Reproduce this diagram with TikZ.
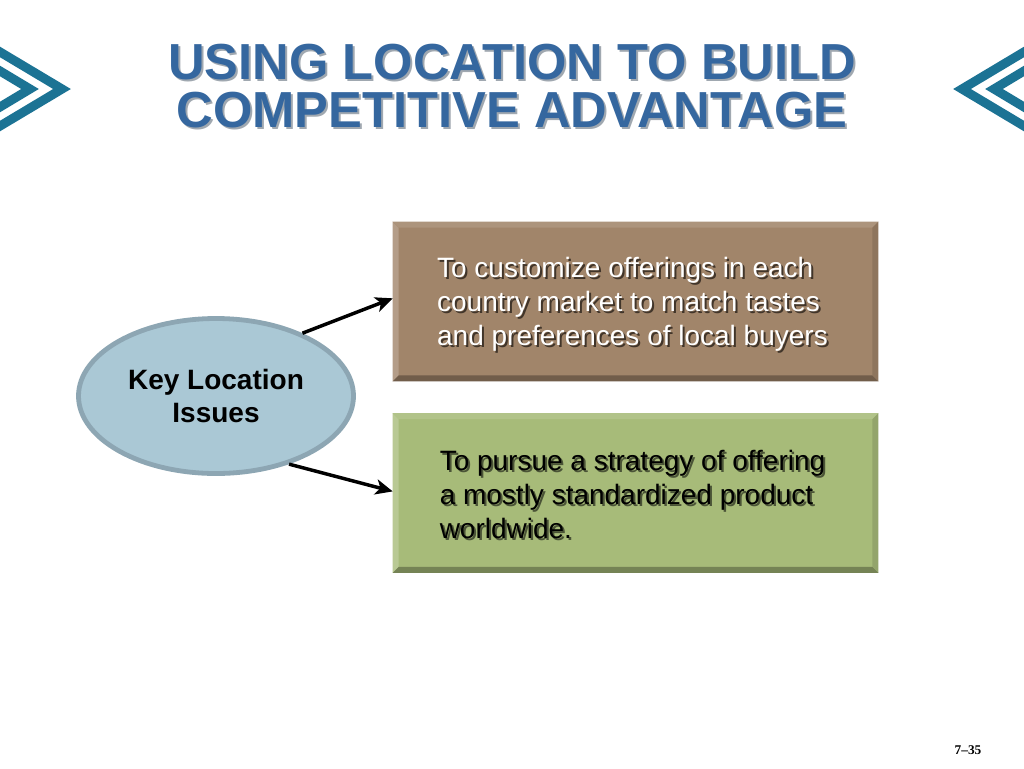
\documentclass[tikz,border=0pt]{standalone}
\usepackage{fontspec}
\setmainfont{Liberation Sans}
\newfontfamily\serifnum{Liberation Serif}
\usetikzlibrary{shapes.geometric,arrows.meta,calc}
\definecolor{titleblue}{HTML}{35679F}
\definecolor{titleshadow}{HTML}{A0A8B0}
\definecolor{chev}{HTML}{1C7394}
\definecolor{brownbox}{HTML}{A1856A}
\definecolor{greenbox}{HTML}{A7BB79}
\definecolor{ellfill}{HTML}{AAC8D5}
\definecolor{ellrim}{HTML}{8DA6B3}
\tikzset{
  chevron/.style={draw=chev, line width=6.8pt, miter limit=10},
  panel/.style={rectangle, minimum width=485*0.75pt, minimum height=159*0.75pt, inner sep=0pt},
  paneltext/.style={align=left, inner sep=0pt, font=\fontsize{21}{25.5}\selectfont},
  arr/.style={-{Stealth[length=13pt,width=11.5pt,inset=3.5pt]}, line width=2.6pt, black},
  titletext/.style={align=center, inner sep=0pt, font=\fontsize{38}{36}\selectfont\bfseries},
}
\begin{document}
\begin{tikzpicture}[x=0.75pt,y=-0.75pt]
\useasboundingbox (0,0) rectangle (1024,768);
\fill[white] (0,0) rectangle (1024,768);
% chevrons
\draw[chevron] (-10,46) -- (62,89) -- (-10,132);
\draw[chevron] (-10,65) -- (30,89) -- (-10,113);
\draw[chevron] (1034,46) -- (962,89) -- (1034,132);
\draw[chevron] (1034,65) -- (994,89) -- (1034,113);
% title
\node[titletext, text=titleshadow] (ts) at (514,88) {USING LOCATION TO BUILD\\COMPETITIVE ADVANTAGE};
\node[titletext, text=titleblue] (t) at (512,86) {USING LOCATION TO BUILD\\COMPETITIVE ADVANTAGE};
% boxes
\node[panel, fill=brownbox] (b1) at (635.5,301.5) {};
\node[panel, fill=greenbox] (b2) at (635.5,493) {};
\foreach \b/\c in {b1/brownbox,b2/greenbox}{
  \fill[\c!80!white] (\b.north west) -- (\b.south west) -- ($(\b.south west)+(6,-6)$) -- ($(\b.north west)+(6,6)$) -- cycle;
  \fill[\c!88!white] (\b.north west) -- (\b.north east) -- ($(\b.north east)+(-6,6)$) -- ($(\b.north west)+(6,6)$) -- cycle;
  \fill[\c!70!black] (\b.south west) -- (\b.south east) -- ($(\b.south east)+(-6,-6)$) -- ($(\b.south west)+(6,-6)$) -- cycle;
  \fill[\c!88!black] (\b.north east) -- (\b.south east) -- ($(\b.south east)+(-6,-6)$) -- ($(\b.north east)+(-6,6)$) -- cycle;
}
\node[paneltext, text=black!60!brownbox] (t1s) at ($(b1.center)+(-1,5)$) {To customize offerings in each\\country market to match tastes\\and preferences of local buyers};
\node[paneltext, text=white] (t1) at ($(b1.center)+(-3,3)$) {To customize offerings in each\\country market to match tastes\\and preferences of local buyers};
\node[paneltext, text=black!55!greenbox] (t2s) at ($(b2.center)+(-1,3)$) {To pursue a strategy of offering\\a mostly standardized product\\worldwide.};
\node[paneltext, text=black] (t2) at ($(b2.center)+(-3,1)$) {To pursue a strategy of offering\\a mostly standardized product\\worldwide.};
% ellipse
\node[ellipse, fill=ellfill, draw=ellrim, line width=3.6pt, minimum width=275*0.75pt, minimum height=155*0.75pt, align=center, font=\fontsize{21}{25}\selectfont\bfseries] (ell) at (216,396) {Key Location\\Issues};
% arrows
\draw[arr] (ell.36) -- ($(b1.north west)!0.48!(b1.south west)$);
\draw[arr] (ell.-43) -- ($(b2.north west)!0.49!(b2.south west)$);
% page number
\node[font=\serifnum\bfseries\fontsize{10}{12}\selectfont, inner sep=0pt] (pg) at (968,750) {7\textendash35};
\end{tikzpicture}
\end{document}
